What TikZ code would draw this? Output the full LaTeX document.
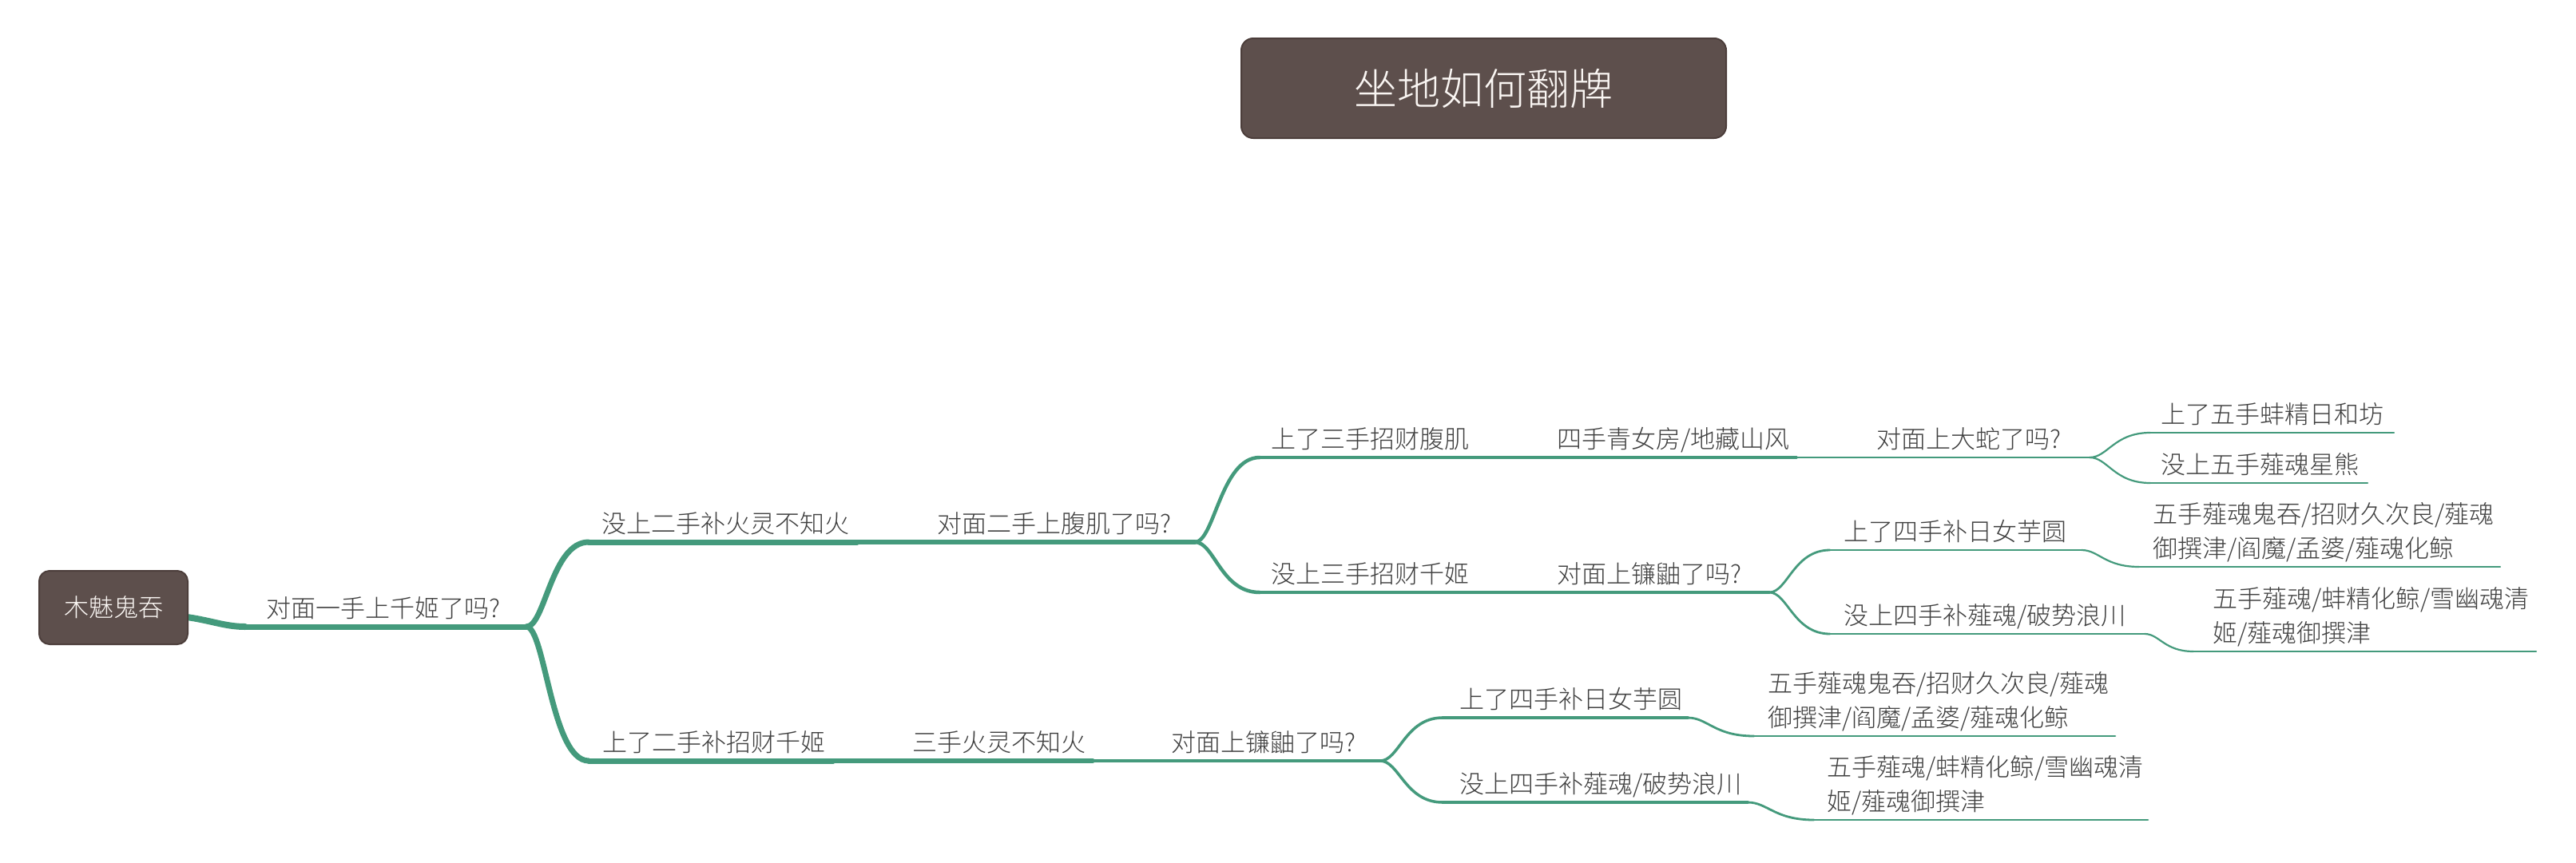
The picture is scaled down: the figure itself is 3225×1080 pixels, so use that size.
\documentclass[tikz,border=0pt]{standalone}
\usepackage{fontspec}
\newfontfamily\cjk{Noto Sans CJK SC}[UprightFont={* Light}]
\usetikzlibrary{calc}
\definecolor{linec}{HTML}{449A7C}
\definecolor{txtc}{HTML}{404040}
\definecolor{boxfill}{HTML}{5D4F4C}
\definecolor{boxedge}{HTML}{4C3E3B}
\definecolor{boxtext}{HTML}{FAF6F3}
\tikzset{
  lbl/.style={anchor=base west, inner sep=0pt, font=\cjk\fontsize{31}{43}\selectfont, text=txtc, align=left},
  uline/.style={draw=linec, line cap=round},
  conn/.style={draw=linec, line cap=round},
  curvy/.style={to path={.. controls ($(\tikztostart)!0.3!(\tikztostart -| \tikztotarget)$) and ($(\tikztotarget)!0.6!(\tikztotarget -| \tikztostart)$) .. (\tikztotarget)}},
  topicbox/.style={draw=boxedge, line width=2pt, fill=boxfill, text=boxtext, inner sep=0pt, rounded corners=13pt},
}
\begin{document}
\begin{tikzpicture}[x=1pt,y=-1pt]
\useasboundingbox[fill=white] (0,0) rectangle (3225,1080);

% ---------- coordinates (underline start l / end r) ----------
\coordinate (root0) at (226,772);
\coordinate (l1) at (307,785);   \coordinate (r1) at (659,785);
\coordinate (l2a) at (737,679);  \coordinate (r2a) at (1073,679);
\coordinate (l2b) at (737,953);  \coordinate (r2b) at (1043,953);
\coordinate (l3a) at (1157,679); \coordinate (r3a) at (1496,679);
\coordinate (l3b) at (1126,953); \coordinate (r3b) at (1368,953);
\coordinate (l4a) at (1577,573); \coordinate (r4a) at (1851,573);
\coordinate (l4b) at (1577,742); \coordinate (r4b) at (1851,742);
\coordinate (l4c) at (1450,953); \coordinate (r4c) at (1728,953);
\coordinate (l5a) at (1933,573); \coordinate (r5a) at (2249,573);
\coordinate (l5b) at (1933,742); \coordinate (r5b) at (2215,742);
\coordinate (l5c) at (1806,899); \coordinate (r5c) at (2113,899);
\coordinate (l5d) at (1806,1005);\coordinate (r5d) at (2188,1005);
\coordinate (l6a) at (2333,573); \coordinate (r6a) at (2616,573);
\coordinate (l6b) at (2291,689); \coordinate (r6b) at (2606,689);
\coordinate (l6c) at (2291,794); \coordinate (r6c) at (2685,794);
\coordinate (l6d) at (2196,922); \coordinate (r6d) at (2648,922);
\coordinate (l6e) at (2271,1027);\coordinate (r6e) at (2689,1027);
\coordinate (l7a) at (2692,542); \coordinate (r7a) at (2997,542);
\coordinate (l7b) at (2692,605); \coordinate (r7b) at (2964,605);
\coordinate (l7c) at (2678,710); \coordinate (r7c) at (3130,710);
\coordinate (l7d) at (2746,816); \coordinate (r7d) at (3175,816);

% ---------- connectors ----------
\draw[conn, line width=8pt] (root0) .. controls (262,776) and (280,785) .. (l1);
\draw[conn, line width=7pt] (r1) to[curvy] (l2a);
\draw[conn, line width=7pt] (r1) to[curvy] (l2b);
\draw[conn, line width=5.5pt] (r2a) -- (l3a);
\draw[conn, line width=5.5pt] (r2b) -- (l3b);
\draw[conn, line width=4.5pt] (r3a) to[curvy] (l4a);
\draw[conn, line width=4.5pt] (r3a) to[curvy] (l4b);
\draw[conn, line width=4.5pt] (r3b) -- (l4c);
\draw[conn, line width=3.5pt] (r4a) -- (l5a);
\draw[conn, line width=3.5pt] (r4b) -- (l5b);
\draw[conn, line width=3.5pt] (r4c) to[curvy] (l5c);
\draw[conn, line width=3.5pt] (r4c) to[curvy] (l5d);
\draw[conn, line width=2.8pt] (r5a) -- (l6a);
\draw[conn, line width=2.8pt] (r5b) to[curvy] (l6b);
\draw[conn, line width=2.8pt] (r5b) to[curvy] (l6c);
\draw[conn, line width=2.8pt] (r5c) to[curvy] (l6d);
\draw[conn, line width=2.8pt] (r5d) to[curvy] (l6e);
\draw[conn, line width=2.2pt] (r6a) to[curvy] (l7a);
\draw[conn, line width=2.2pt] (r6a) to[curvy] (l7b);
\draw[conn, line width=2.2pt] (r6b) to[curvy] (l7c);
\draw[conn, line width=2.2pt] (r6c) to[curvy] (l7d);

% ---------- underlines ----------
\draw[uline, line width=7pt] (l1) -- (r1);
\draw[uline, line width=7pt] (l2a) -- (r2a);
\draw[uline, line width=7pt] (l2b) -- (r2b);
\draw[uline, line width=5.5pt] (l3a) -- (r3a);
\draw[uline, line width=5.5pt] (l3b) -- (r3b);
\draw[uline, line width=4.5pt] (l4a) -- (r4a);
\draw[uline, line width=4.5pt] (l4b) -- (r4b);
\draw[uline, line width=4.5pt] (l4c) -- (r4c);
\draw[uline, line width=3.5pt] (l5a) -- (r5a);
\draw[uline, line width=3.5pt] (l5b) -- (r5b);
\draw[uline, line width=3.5pt] (l5c) -- (r5c);
\draw[uline, line width=3.5pt] (l5d) -- (r5d);
\draw[uline, line width=2.8pt] (l6a) -- (r6a);
\draw[uline, line width=2.8pt] (l6b) -- (r6b);
\draw[uline, line width=2.8pt] (l6c) -- (r6c);
\draw[uline, line width=2.8pt] (l6d) -- (r6d);
\draw[uline, line width=2.8pt] (l6e) -- (r6e);
\draw[uline, line width=2.2pt] (l7a) -- (r7a);
\draw[uline, line width=2.2pt] (l7b) -- (r7b);
\draw[uline, line width=2.2pt] (l7c) -- (r7c);
\draw[uline, line width=2.2pt] (l7d) -- (r7d);

% ---------- boxes ----------
\node[topicbox, minimum width=607pt, minimum height=125pt, rounded corners=15pt,
      font=\cjk\fontsize{54}{60}\selectfont] (title) at (1857.5,110.5) {坐地如何翻牌};
\node[topicbox, minimum width=186pt, minimum height=92pt,
      font=\cjk\fontsize{31}{36}\selectfont] (root) at (142,761) {木魅鬼吞};

% ---------- labels (base = baseline of last line) ----------
\node[lbl] (t1) at (333,773) {对面一手上千姬了吗?};
\node[lbl] (t2a) at (753,667) {没上二手补火灵不知火};
\node[lbl] (t2b) at (754,941) {上了二手补招财千姬};
\node[lbl] (t3a) at (1173,667) {对面二手上腹肌了吗?};
\node[lbl] (t3b) at (1142,941) {三手火灵不知火};
\node[lbl] (t4a) at (1591,561) {上了三手招财腹肌};
\node[lbl] (t4b) at (1591,730) {没上三手招财千姬};
\node[lbl] (t4c) at (1466,941) {对面上镰鼬了吗?};
\node[lbl] (t5a) at (1949,561) {四手青女房/地藏山风};
\node[lbl] (t5b) at (1949,730) {对面上镰鼬了吗?};
\node[lbl] (t5c) at (1827,887) {上了四手补日女芋圆};
\node[lbl] (t5d) at (1827,993) {没上四手补薤魂/破势浪川};
\node[lbl] (t6a) at (2349,561) {对面上大蛇了吗?};
\node[lbl] (t6b) at (2308,677) {上了四手补日女芋圆};
\node[lbl] (t6c) at (2308,782) {没上四手补薤魂/破势浪川};
\node[lbl] (t6d) at (2213,910) {五手薤魂鬼吞/招财久次良/薤魂\\御撰津/阎魔/孟婆/薤魂化鲸};
\node[lbl] (t6e) at (2287,1015) {五手薤魂/蚌精化鲸/雪幽魂清\\姬/薤魂御撰津};
\node[lbl] (t7a) at (2705,530) {上了五手蚌精日和坊};
\node[lbl] (t7b) at (2705,593) {没上五手薤魂星熊};
\node[lbl] (t7c) at (2695,698) {五手薤魂鬼吞/招财久次良/薤魂\\御撰津/阎魔/孟婆/薤魂化鲸};
\node[lbl] (t7d) at (2770,804) {五手薤魂/蚌精化鲸/雪幽魂清\\姬/薤魂御撰津};
\end{tikzpicture}
\end{document}
